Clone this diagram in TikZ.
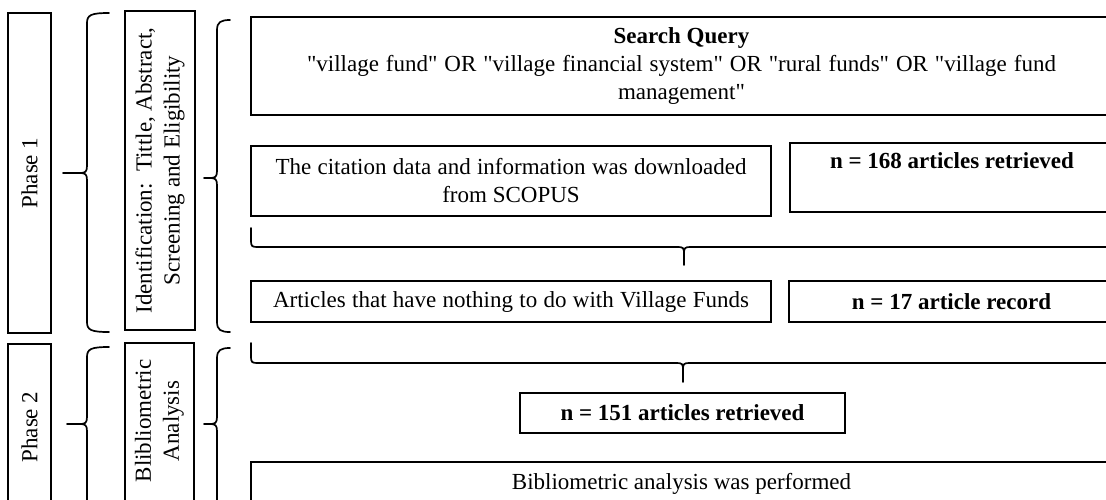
\documentclass[tikz,border=0pt]{standalone}
\usepackage{fontspec}
\setmainfont{Liberation Serif}[Ligatures=TeXOff]
\newcommand\lbrc[6]{% xend xline xtip ytop ymid ybot
  \draw[brc] (#1,#4) .. controls (#2+4,#4) and (#2,#4+2) .. (#2,#4+10)
    -- (#2,#5-7) .. controls (#2,#5-1) and (#2-2,#5) .. (#2-7,#5) -- (#3,#5)
    -- (#2-7,#5) .. controls (#2-2,#5) and (#2,#5+1) .. (#2,#5+7)
    -- (#2,#6-10) .. controls (#2,#6-2) and (#2+4,#6) .. (#1,#6);}
\newcommand\dbrc[5]{% xleft ytop ybar xtip ytipend
  \draw[brc] (#1,#2) -- (#1,#3-6) .. controls (#1,#3-1) and (#1+1,#3) .. (#1+6,#3)
    -- (#4-6,#3) .. controls (#4-1,#3) and (#4,#3+1) .. (#4,#3+6) -- (#4,#5)
    -- (#4,#3+6) .. controls (#4,#3+1) and (#4+1,#3) .. (#4+6,#3) -- (1120,#3);}
\begin{document}
\begin{tikzpicture}[x=1pt,y=-1pt,
  every node/.style={font=\fontsize{23}{28}\selectfont},
  box/.style={draw, line width=1.7pt, inner sep=0pt, align=center},
  brc/.style={line width=1.7pt, line join=round, line cap=round}]
\useasboundingbox (0,0) rectangle (1106,499);
\clip (0,0) rectangle (1106,499);
\fill[white] (0,0) rectangle (1106,499);
% left column
\node[box, minimum width=43pt, minimum height=320pt] (ph1) at (29.5,173) {};
\node[rotate=90] (ph1t) at (ph1.center) {Phase 1};
\node[box, minimum width=43pt, minimum height=166pt] (ph2) at (29.5,427) {};
\node[rotate=90] (ph2t) at (ph2.center) {Phase 2};
\node[box, minimum width=70pt, minimum height=319pt] (idb) at (160,170.5) {};
\node[rotate=90, align=center] (idt) at (idb.center) {Identification:~~Tittle, Abstract,\\Screening and Eligibility};
\node[box, minimum width=69pt, minimum height=160pt] (bib) at (159.5,423) {};
\node[rotate=90, align=center] (bibt) at (159.5,421) {Blibliometric\\Analysis};
% braces
\lbrc{109}{87}{63}{13}{173}{332}
\lbrc{230}{217}{204}{20}{178}{332}
\lbrc{109}{87}{67}{347}{424}{530}
\lbrc{230}{217}{204}{348}{424}{530}
% right boxes
\node[box, minimum width=861pt, minimum height=98pt] (sq) at (681.5,66)
  {\textbf{Search Query}\\\makebox[749pt][s]{"village fund" OR "village financial system" OR "rural funds" OR "village fund}\\management"};
\node[box, minimum width=520pt, minimum height=70pt] (cit) at (511,181)
  {\makebox[471pt][s]{The citation data and information was downloaded}\\from SCOPUS};
\node[box, minimum width=324pt, minimum height=69pt] (n168) at (952,177.5)
  {\raisebox{-3pt}{\textbf{n = 168 articles retrieved}}\\\strut};
\dbrc{251}{228}{247}{684}{265}
\node[box, minimum width=520pt, minimum height=41pt] (art) at (511,301.5)
  {\makebox[476pt][s]{Articles that have nothing to do with Village Funds}};
\node[box, minimum width=325pt, minimum height=41pt] (n17) at (951.5,301.5)
  {\textbf{n = 17 article record}};
\dbrc{251}{343}{363}{683}{382}
\node[box, minimum width=325pt, minimum height=40pt] (n151) at (682.5,413)
  {\textbf{n = 151 articles retrieved}};
\node[box, minimum width=861pt, minimum height=43pt] (bp) at (681.5,483.5)
  {Bibliometric analysis was performed};
\end{tikzpicture}
\end{document}
